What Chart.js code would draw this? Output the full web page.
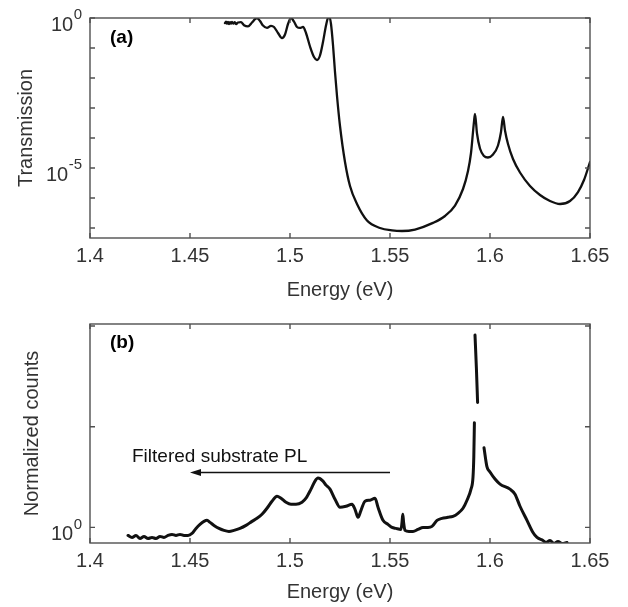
<!DOCTYPE html>
<html>
<head>
<meta charset="utf-8">
<script src="https://cdn.jsdelivr.net/npm/chart.js@4.4.1/dist/chart.umd.min.js"></script>
<style>
  html, body { margin: 0; padding: 0; background: #fff; }
  #wrap { position: relative; width: 628px; height: 607px; overflow: hidden; }
  #wrap canvas { position: absolute; left: 0; }
</style>
</head>
<body>
<div id="wrap">
  <canvas id="transChart" width="628" height="310" style="top:0"></canvas>
  <canvas id="plChart" width="628" height="317" style="top:290px"></canvas>
</div>
<script>
// ---- panel (a): transmission, values as log10(T) ----
const TRANS_E = [
  1.4675, 1.4680, 1.4685, 1.4690, 1.4695, 1.4700, 1.4705, 1.4710, 1.4717, 1.4724,
  1.4731, 1.4740, 1.4755, 1.4770, 1.4790, 1.4810, 1.4825, 1.4835, 1.4850, 1.4865,
  1.4885, 1.4905, 1.4920, 1.4940, 1.4960, 1.4975, 1.4990, 1.5005, 1.5020, 1.5035,
  1.5050, 1.5065, 1.5080, 1.5100, 1.5120, 1.5135, 1.5150, 1.5165, 1.5180, 1.5190,
  1.5198, 1.5205, 1.5215, 1.5225, 1.5235, 1.5250, 1.5275, 1.5300, 1.5335, 1.5385,
  1.5450, 1.5510, 1.5560, 1.5625, 1.5715, 1.5775, 1.5825, 1.5865, 1.5890, 1.5905,
  1.5915, 1.5920, 1.5925, 1.5935, 1.5950, 1.5970, 1.5990, 1.6015, 1.6040, 1.6055,
  1.6065, 1.6075, 1.6090, 1.6115, 1.6150, 1.6200, 1.6250, 1.6300, 1.6350, 1.6400,
  1.6440, 1.6470, 1.6500
];
const TRANS_LOG = [
  -0.17, -0.12, -0.19, -0.13, -0.20, -0.14, -0.19, -0.13, -0.19, -0.14,
  -0.20, -0.15, -0.14, -0.24, -0.28, -0.15, -0.04, 0.00, -0.10, -0.25,
  -0.33, -0.26, -0.30, -0.50, -0.67, -0.55, -0.20, 0.00, -0.12, -0.30,
  -0.33, -0.30, -0.50, -0.95, -1.30, -1.40, -1.25, -0.80, -0.25, 0.00,
  0.02, -0.20, -0.90, -1.80, -2.60, -3.60, -4.80, -5.60, -6.20, -6.75,
  -7.00, -7.08, -7.10, -7.05, -6.83, -6.60, -6.25, -5.70, -5.10, -4.50,
  -3.80, -3.45, -3.20, -3.85, -4.35, -4.60, -4.65, -4.55, -4.25, -3.80,
  -3.30, -3.75, -4.20, -4.70, -5.15, -5.60, -5.90, -6.10, -6.20, -6.10,
  -5.80, -5.40, -4.80
];
const TRANS_YTICKS = [1e-7, 1e-6, 1e-5, 1e-4, 1e-3, 1e-2, 1e-1, 1];
const TRANS_YLABELS = [[1, '0'], [1e-5, '-5']];

// ---- panel (b): PL, values as log10(normalized counts), null = gap ----
const PL_E = [
  1.4190, 1.4210, 1.4230, 1.4250, 1.4270, 1.4290, 1.4310, 1.4330, 1.4350, 1.4370,
  1.4390, 1.4410, 1.4430, 1.4450, 1.4470, 1.4490, 1.4510, 1.4530, 1.4550, 1.4570,
  1.4585, 1.4600, 1.4620, 1.4645, 1.4670, 1.4695, 1.4720, 1.4750, 1.4780, 1.4810,
  1.4835, 1.4860, 1.4885, 1.4910, 1.4935, 1.4955, 1.4980, 1.5005, 1.5030, 1.5060,
  1.5080, 1.5105, 1.5125, 1.5140, 1.5165, 1.5180, 1.5200, 1.5225, 1.5250, 1.5280,
  1.5310, 1.5325, 1.5340, 1.5355, 1.5375, 1.5400, 1.5425, 1.5440, 1.5465, 1.5490,
  1.5510, 1.5530, 1.5555, 1.5560, 1.5564, 1.5568, 1.5575, 1.5595, 1.5615, 1.5640,
  1.5665, 1.5690, 1.5710, 1.5735, 1.5760, 1.5790, 1.5815, 1.5840, 1.5865, 1.5885,
  1.5905, 1.5915, 1.5919, 1.5922, 1.5923, 1.5925, 1.5932, 1.5938, 1.5950, 1.5970,
  1.5985, 1.6000, 1.6025, 1.6050, 1.6100, 1.6125, 1.6150, 1.6185, 1.6215, 1.6235,
  1.6265, 1.6280, 1.6300, 1.6320, 1.6340, 1.6360, 1.6385
];
const PL_LOG = [
  -0.08, -0.10, -0.08, -0.11, -0.09, -0.11, -0.10, -0.11, -0.09, -0.10,
  -0.08, -0.07, -0.08, -0.07, -0.08, -0.08, -0.06, -0.01, 0.03, 0.06,
  0.07, 0.05, 0.02, -0.01, -0.03, -0.04, -0.03, -0.01, 0.02, 0.06,
  0.09, 0.13, 0.19, 0.26, 0.31, 0.29, 0.25, 0.23, 0.23, 0.25,
  0.29, 0.38, 0.46, 0.49, 0.46, 0.42, 0.38, 0.28, 0.20, 0.21,
  0.23, 0.18, 0.10, 0.17, 0.26, 0.27, 0.29, 0.20, 0.07, 0.03,
  0.00, -0.01, -0.02, 0.05, 0.13, 0.05, -0.03, -0.04, -0.04, -0.02,
  0.00, 0.00, 0.01, 0.07, 0.09, 0.10, 0.11, 0.14, 0.19, 0.27,
  0.38, 0.50, 0.70, 1.04, null, 1.91, 1.58, 1.24, null, 0.79,
  0.60, 0.55, 0.48, 0.43, 0.38, 0.33, 0.21, 0.07, -0.05, -0.10,
  -0.13, -0.15, -0.13, -0.16, -0.14, -0.16, -0.15
];
const PL_YTICKS = [1, 10, 100];
const PL_YLABELS = [[1, '0']];

const X_TICKS = [1.4, 1.45, 1.5, 1.55, 1.6, 1.65];

const FONT = "'Liberation Sans', Arial, Helvetica, sans-serif";
const TEXT_COLOR = '#333333';
const AXIS_COLOR = '#505050';

// box, inward ticks on all four sides, 10^n labels, panel annotations
const framePlugin = {
  id: 'frame',
  afterDraw(chart, args, opts) {
    const { ctx, chartArea: a, scales: { x, y } } = chart;
    ctx.save();
    ctx.strokeStyle = AXIS_COLOR;
    ctx.lineWidth = 1.4;
    ctx.strokeRect(a.left, a.top, a.right - a.left, a.bottom - a.top);
    const tl = 5;
    ctx.beginPath();
    X_TICKS.forEach(v => {
      const px = x.getPixelForValue(v);
      ctx.moveTo(px, a.bottom); ctx.lineTo(px, a.bottom - tl);
      ctx.moveTo(px, a.top); ctx.lineTo(px, a.top + tl);
    });
    opts.yTicks.forEach(v => {
      const py = y.getPixelForValue(v);
      ctx.moveTo(a.left, py); ctx.lineTo(a.left + tl, py);
      ctx.moveTo(a.right, py); ctx.lineTo(a.right - tl, py);
    });
    ctx.stroke();

    // 10^n labels
    ctx.fillStyle = TEXT_COLOR;
    ctx.textAlign = 'right';
    ctx.textBaseline = 'middle';
    opts.yLabels.forEach(([v, exp]) => {
      const py = y.getPixelForValue(v);
      const right = a.left - 8;
      ctx.font = '15px ' + FONT;
      const w = ctx.measureText(exp).width;
      ctx.fillText(exp, right, py - 3);
      ctx.font = '20px ' + FONT;
      ctx.fillText('10', right - w - 0.5, py + 7);
    });

    // panel letter
    ctx.fillStyle = '#000';
    ctx.textAlign = 'left';
    ctx.font = 'bold 19px ' + FONT;
    ctx.fillText(opts.letter[0], x.getPixelForValue(opts.letter[1]), y.getPixelForValue(opts.letter[2]));

    if (opts.arrow) {
      const [text, tx, ty, x0, x1, ay] = opts.arrow;
      ctx.font = '19px ' + FONT;
      ctx.fillStyle = '#111';
      ctx.fillText(text, x.getPixelForValue(tx), y.getPixelForValue(ty));
      const px0 = x.getPixelForValue(x0), px1 = x.getPixelForValue(x1), py = y.getPixelForValue(ay);
      ctx.strokeStyle = '#111';
      ctx.lineWidth = 1.3;
      ctx.beginPath();
      ctx.moveTo(px0, py); ctx.lineTo(px1 + 8, py);
      ctx.stroke();
      ctx.beginPath();
      ctx.moveTo(px1, py);
      ctx.lineTo(px1 + 11, py - 3.5);
      ctx.lineTo(px1 + 11, py + 3.5);
      ctx.closePath();
      ctx.fill();
    }
    ctx.restore();
  }
};

function toPoints(es, logs) {
  return es.map((e, i) => ({ x: e, y: logs[i] === null ? null : Math.pow(10, logs[i]) }));
}

function makeChart(id, cfg) {
  return new Chart(document.getElementById(id), {
    type: 'scatter',
    data: {
      datasets: [{
        data: toPoints(cfg.e, cfg.log),
        showLine: true,
        spanGaps: false,
        borderColor: '#111111',
        borderWidth: cfg.lineWidth,
        borderJoinStyle: 'round',
        borderCapStyle: 'round',
        pointRadius: 0,
        tension: 0,
        cubicInterpolationMode: 'monotone'
      }]
    },
    options: {
      responsive: false,
      animation: false,
      events: [],
      layout: { padding: { top: cfg.padTop, right: 38, left: 0, bottom: 0 } },
      plugins: {
        legend: { display: false },
        tooltip: { enabled: false },
        frame: { yTicks: cfg.yTicks, yLabels: cfg.yLabels, letter: cfg.letter, arrow: cfg.arrow }
      },
      scales: {
        x: {
          type: 'linear',
          min: 1.4,
          max: 1.65,
          afterBuildTicks: s => { s.ticks = X_TICKS.map(v => ({ value: v })); },
          afterFit: s => { s.height = cfg.xHeight; },
          grid: { display: false, drawTicks: false },
          border: { display: false },
          ticks: {
            padding: 6,
            color: TEXT_COLOR,
            font: { family: FONT, size: 20 },
            callback: v => String(+v.toFixed(2))
          },
          title: {
            display: true,
            text: 'Energy (eV)',
            color: TEXT_COLOR,
            font: { family: FONT, size: 20 },
            padding: { top: 0, bottom: cfg.xTitlePad }
          }
        },
        y: {
          type: 'logarithmic',
          min: cfg.yMin,
          max: cfg.yMax,
          afterFit: s => { s.width = 90; },
          grid: { display: false, drawTicks: false },
          border: { display: false },
          ticks: { display: false },
          title: {
            display: true,
            text: cfg.yTitle,
            color: TEXT_COLOR,
            font: { family: FONT, size: 20 },
            padding: { top: cfg.yTitlePad, bottom: 0 }
          }
        }
      }
    },
    plugins: [framePlugin]
  });
}

makeChart('transChart', {
  e: TRANS_E, log: TRANS_LOG, lineWidth: 2.3,
  padTop: 18, xHeight: 72, xTitlePad: 8,
  yMin: Math.pow(10, -7.333), yMax: 1,
  yTitle: 'Transmission', yTitlePad: 14,
  yTicks: TRANS_YTICKS, yLabels: TRANS_YLABELS,
  letter: ['(a)', 1.41, Math.pow(10, -0.67)],
  arrow: null
});

makeChart('plChart', {
  e: PL_E, log: PL_LOG, lineWidth: 3,
  padTop: 34, xHeight: 64, xTitlePad: 3,
  yMin: Math.pow(10, -0.149), yMax: Math.pow(10, 2.02),
  yTitle: 'Normalized counts', yTitlePad: 20,
  yTicks: PL_YTICKS, yLabels: PL_YLABELS,
  letter: ['(b)', 1.41, Math.pow(10, 1.83)],
  arrow: ['Filtered substrate PL', 1.421, Math.pow(10, 0.70), 1.55, 1.45, Math.pow(10, 0.545)]
});
</script>
</body>
</html>
